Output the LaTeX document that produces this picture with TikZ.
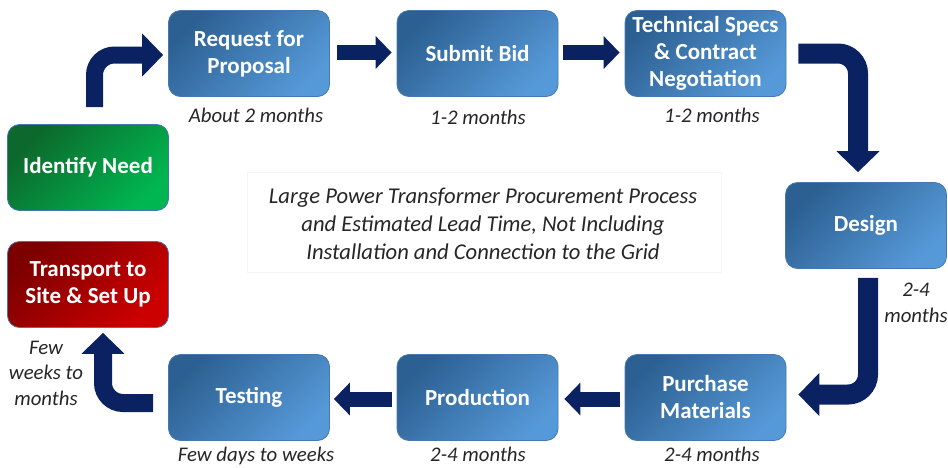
\documentclass[tikz,border=0pt]{standalone}
\usepackage{fontspec}
\setmainfont{Carlito}
\usetikzlibrary{arrows.meta}
\definecolor{navy}{RGB}{10,34,98}
\definecolor{bdark}{RGB}{44,96,146}
\definecolor{blight}{RGB}{86,153,216}
\definecolor{bedge}{RGB}{70,120,175}
\definecolor{gdark}{RGB}{12,104,44}
\definecolor{glight}{RGB}{0,182,80}
\definecolor{rdark}{RGB}{125,0,0}
\definecolor{rlight}{RGB}{205,0,0}
\tikzset{
  stepbox/.style={rounded corners=12pt, minimum width=161pt, minimum height=86pt,
    inner sep=0pt, align=center, text=white,
    font=\fontsize{23}{27}\selectfont\bfseries},
  bluebox/.style={stepbox, draw=bedge, line width=0.8pt,
    top color=bdark, bottom color=blight, shading angle=45},
  greenbox/.style={stepbox, draw=bedge, line width=0.8pt,
    top color=gdark, bottom color=glight, shading angle=45},
  redbox/.style={stepbox, draw=bedge, line width=0.8pt,
    top color=rdark, bottom color=rlight, shading angle=45},
  lbl/.style={font=\fontsize{20.8}{25.5}\selectfont\itshape, text=black!85, align=center, inner sep=0pt},
  flat/.style={draw=navy, line width=15pt, -{Triangle[width=32pt,length=16pt]}},
  bent/.style={draw=navy, line width=19pt, rounded corners=20pt, -{Triangle[width=42pt,length=21pt]}},
}
\begin{document}
\begin{tikzpicture}[x=1pt,y=-1pt]
\useasboundingbox (0,0) rectangle (948,467);
\fill[white] (0,0) rectangle (948,467);
% title box
\node[draw=black!4, line width=0.8pt, fill=white, minimum width=474pt, minimum height=100pt] (tbox) at (484,222) {};
\node[lbl, font=\fontsize{22.6}{28}\selectfont\itshape] (title) at (483,224)
 {Large Power Transformer Procurement Process\\and Estimated Lead Time, Not Including\\Installation and Connection to the Grid};
% boxes
\node[greenbox] (ide) at (88,167.5) {Identify Need};
\node[bluebox] (req) at (249,53.5) {Request for\\Proposal};
\node[bluebox] (sub) at (477.5,53.5) {Submit Bid};
\node[bluebox] (tech) at (705.5,53.5) {Technical Specs\\\& Contract\\Negotiation};
\node[bluebox] (des) at (866,225.5) {Design};
\node[bluebox] (pur) at (705.5,397.5) {Purchase\\Materials};
\node[bluebox] (pro) at (477.5,397.5) {Production};
\node[bluebox] (tes) at (249,397.5) {Testing};
\node[redbox] (tra) at (88,284.5) {Transport to\\Site \& Set Up};
% labels
\node[lbl] (l1) at (256,115) {About 2 months};
\node[lbl] (l2) at (478,117) {1-2 months};
\node[lbl] (l3) at (712,115) {1-2 months};
\node[lbl] (l4) at (916,303) {2-4\\months};
\node[lbl, anchor=base] (l5) at (712,461) {2-4 months};
\node[lbl, anchor=base] (l6) at (478,461) {2-4 months};
\node[lbl, anchor=base] (l7) at (256,461) {Few days to weeks};
\node[lbl] (l8) at (46,373) {Few\\weeks to\\months};
% arrows
\draw[bent, line width=17pt] ([xshift=6.5pt,yshift=17pt]ide.north) |- ([xshift=-5pt,yshift=-1.5pt]req.west);
\draw[flat] ([xshift=7pt,yshift=1pt]req.east) -- ([xshift=-5pt,yshift=1pt]sub.west);
\draw[flat] ([xshift=5pt,yshift=1pt]sub.east) -- ([xshift=-5pt,yshift=1pt]tech.west);
\draw[bent, line width=20pt] ([xshift=12pt]tech.east) -| ([xshift=-8pt,yshift=10pt]des.north);
\draw[bent, line width=20pt] ([xshift=2pt,yshift=-9pt]des.south) |- ([xshift=12pt,yshift=3pt]pur.east);
\draw[flat] ([xshift=-5pt,yshift=-1.5pt]pur.west) -- ([xshift=6pt,yshift=-1.5pt]pro.east);
\draw[flat] ([xshift=-5pt,yshift=-1.5pt]pro.west) -- ([xshift=4pt,yshift=-1.5pt]tes.east);
\draw[bent, line width=18pt] ([xshift=-15pt,yshift=-5.5pt]tes.west) -| ([xshift=15pt,yshift=-5pt]tra.south);
\end{tikzpicture}
\end{document}
